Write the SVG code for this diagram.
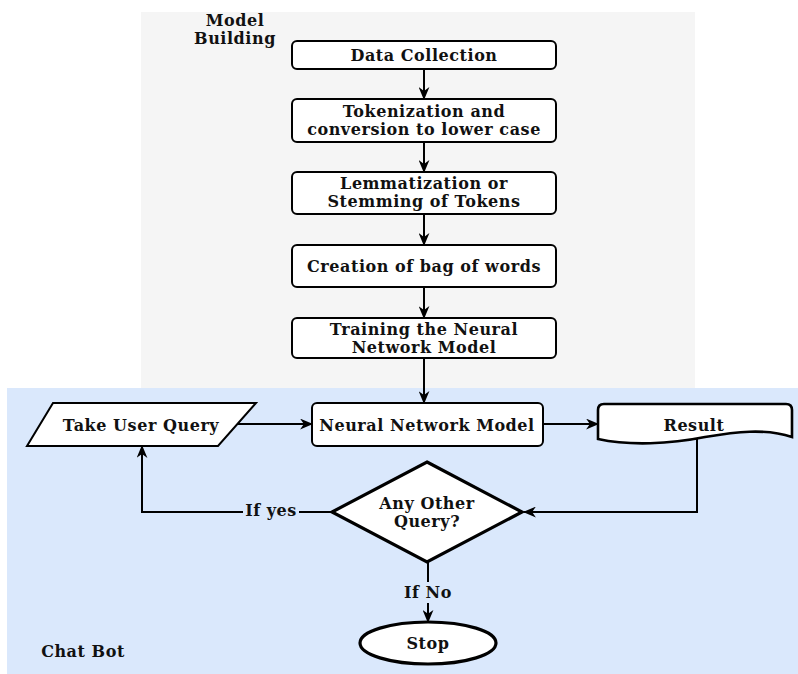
<svg xmlns="http://www.w3.org/2000/svg" width="798" height="674" viewBox="0 0 798 674">
<defs>
<marker id="arr" viewBox="0 0 12 10" refX="11" refY="5" markerWidth="13" markerHeight="11" markerUnits="userSpaceOnUse" orient="auto">
<path d="M0,0 L12,5 L0,10 L3.5,5 Z" fill="#000"/>
</marker>
<style>
text{font-family:"DejaVu Serif","Liberation Serif",serif;font-weight:bold;font-size:16px;letter-spacing:0.55px;fill:#111;text-anchor:middle}
.box{fill:#fff;stroke:#000;stroke-width:2}
.thick{fill:#fff;stroke:#000;stroke-width:3.2}
.edge{fill:none;stroke:#000;stroke-width:2;marker-end:url(#arr)}
.line{fill:none;stroke:#000;stroke-width:2}
</style>
</defs>
<rect x="141" y="12" width="554" height="376" fill="#f5f5f5"/>
<rect x="7" y="388" width="791" height="286" fill="#dae8fc"/>
<g id="label-model-building"><text x="235" y="26">Model</text><text x="235" y="44">Building</text></g>
<g id="label-chat-bot"><text x="83" y="657">Chat Bot</text></g>
<g id="connectors">
<line class="edge" x1="424" y1="69" x2="424" y2="99"/>
<line class="edge" x1="424" y1="142" x2="424" y2="172"/>
<line class="edge" x1="424" y1="214" x2="424" y2="245"/>
<line class="edge" x1="424" y1="287" x2="424" y2="318"/>
<line class="edge" x1="424" y1="358" x2="424" y2="403"/>
<line class="edge" x1="237" y1="424" x2="312" y2="424"/>
<line class="edge" x1="543" y1="424" x2="598" y2="424"/>
<polyline class="edge" points="697,439 697,512 524,512"/>
<polyline class="edge" points="332,512 142,512 142,446"/>
<rect x="243" y="502" width="56" height="18" fill="#dae8fc"/>
<text x="271" y="516">If yes</text>
<polyline class="line" points="428,562 428,582"/>
<line class="edge" x1="428" y1="603" x2="428" y2="622"/>
<text x="428" y="598">If No</text>
</g>
<g id="n-data-collection"><rect class="box" x="292" y="41" width="264" height="28" rx="5"/><text x="424" y="61">Data Collection</text></g>
<g id="n-tokenization"><rect class="box" x="292" y="99" width="264" height="43" rx="5"/><text x="424" y="117">Tokenization and</text><text x="424" y="135">conversion to lower case</text></g>
<g id="n-lemmatization"><rect class="box" x="292" y="172" width="264" height="42" rx="5"/><text x="424" y="189">Lemmatization or</text><text x="424" y="207">Stemming of Tokens</text></g>
<g id="n-bag-of-words"><rect class="box" x="292" y="245" width="264" height="42" rx="5"/><text x="424" y="272">Creation of bag of words</text></g>
<g id="n-training"><rect class="box" x="292" y="318" width="264" height="40" rx="5"/><text x="424" y="335">Training the Neural</text><text x="424" y="353">Network Model</text></g>
<g id="n-take-user-query"><polygon class="box" points="53,403 256,403 218,446 27,446"/><text x="141" y="431">Take User Query</text></g>
<g id="n-neural-network-model"><rect class="box" x="312" y="403" width="231" height="43" rx="5"/><text x="427" y="431">Neural Network Model</text></g>
<g id="n-result"><path d="M604,404 L786,404 Q792,404 792,410 L792,437 C765,428 735,432 705,437 C670,444 630,446 598,439 L598,410 Q598,404 604,404 Z" fill="#fff" stroke="#000" stroke-width="2.6"/><text x="694" y="431">Result</text></g>
<g id="n-any-other-query"><polygon class="thick" points="427,462 522,512 427,562 332,512"/><text x="427" y="509">Any Other</text><text x="427" y="527">Query?</text></g>
<g id="n-stop"><ellipse class="thick" cx="428" cy="643" rx="68" ry="21"/><text x="428" y="649">Stop</text></g>
</svg>
